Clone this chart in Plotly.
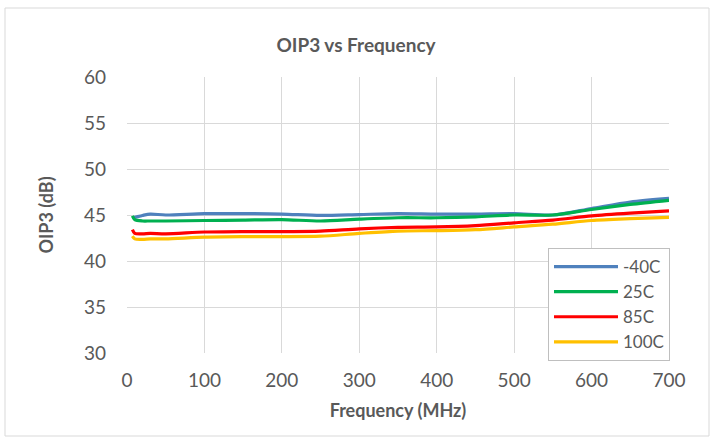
import plotly.graph_objects as go

freq = [7, 10, 20, 30, 50, 100, 150, 200, 250, 300, 350, 400, 450, 500, 550, 600, 650, 700]
oip3_m40 = [44.7, 44.75, 44.95, 45.1, 45.0, 45.15, 45.15, 45.1, 44.95, 45.05, 45.15, 45.1, 45.1, 45.15, 45.0, 45.7, 46.4, 46.8]
oip3_25 = [44.9, 44.5, 44.35, 44.35, 44.35, 44.4, 44.45, 44.5, 44.35, 44.55, 44.7, 44.7, 44.8, 45.0, 45.0, 45.6, 46.15, 46.6]
oip3_85 = [43.4, 43.0, 42.95, 43.0, 42.95, 43.15, 43.2, 43.2, 43.25, 43.5, 43.65, 43.7, 43.85, 44.15, 44.45, 44.9, 45.2, 45.45]
oip3_100 = [42.7, 42.4, 42.35, 42.4, 42.4, 42.6, 42.65, 42.65, 42.7, 43.0, 43.25, 43.3, 43.4, 43.7, 44.0, 44.4, 44.6, 44.75]

series_names = ["-40C", "25C", "85C", "100C"]
series_values = [oip3_m40, oip3_25, oip3_85, oip3_100]
colors = ["#4F81BD", "#00B050", "#FF0000", "#FFC000"]

x_ticks = [0, 100, 200, 300, 400, 500, 600, 700]
y_ticks = [30, 35, 40, 45, 50, 55, 60]

FONT = "Lato, Carlito, Calibri, sans-serif"
GREY = "#595959"

fig = go.Figure()
for name, vals, c in zip(series_names, series_values, colors):
    fig.add_trace(go.Scatter(x=freq, y=vals, name=name, mode="lines",
                             line=dict(color=c, width=3.2, shape="spline", smoothing=0.8)))

fig.update_layout(
    width=712, height=440,
    margin=dict(l=127, r=43, t=77, b=87),
    paper_bgcolor="white", plot_bgcolor="white",
    font=dict(family=FONT, color=GREY, size=18),
    title=dict(text="<b>OIP3 vs Frequency</b>", x=0.5, xanchor="center",
               y=1 - 45 / 440, yanchor="middle",
               font=dict(family=FONT, size=19, color=GREY)),
    xaxis=dict(range=[0, 700], tickvals=x_ticks,
               showgrid=True, gridcolor="#D9D9D9", gridwidth=1,
               zeroline=False, showline=False, ticks="",
               tickfont=dict(size=19, color=GREY), ticklabelstandoff=14,
               title=dict(text="<b>Frequency (MHz)</b>", font=dict(size=18, color=GREY), standoff=14)),
    yaxis=dict(range=[30, 60], tickvals=y_ticks,
               showgrid=True, gridcolor="#D9D9D9", gridwidth=1,
               zeroline=False, showline=False, ticks="",
               tickfont=dict(size=19, color=GREY), ticklabelstandoff=20,
               title=dict(text="<b>OIP3 (dB)</b>", font=dict(size=18, color=GREY), standoff=25)),
    legend=dict(x=(548 - 127) / 542, y=(353 - 248) / 276, xanchor="left", yanchor="top",
                bgcolor="white", bordercolor="#BFBFBF", borderwidth=1,
                font=dict(size=17, color=GREY), tracegroupgap=0, itemwidth=64),
    shapes=[dict(type="rect", xref="paper", yref="paper",
                 x0=(5 - 127) / 542, x1=(709 - 127) / 542,
                 y0=(353 - 436) / 276, y1=(353 - 8) / 276,
                 line=dict(color="#D9D9D9", width=1), fillcolor="rgba(0,0,0,0)",
                 layer="below")],
)

fig.write_html("out.html", config={"displayModeBar": False},
               post_script="document.body.style.margin='0';document.body.style.overflow='hidden';")
